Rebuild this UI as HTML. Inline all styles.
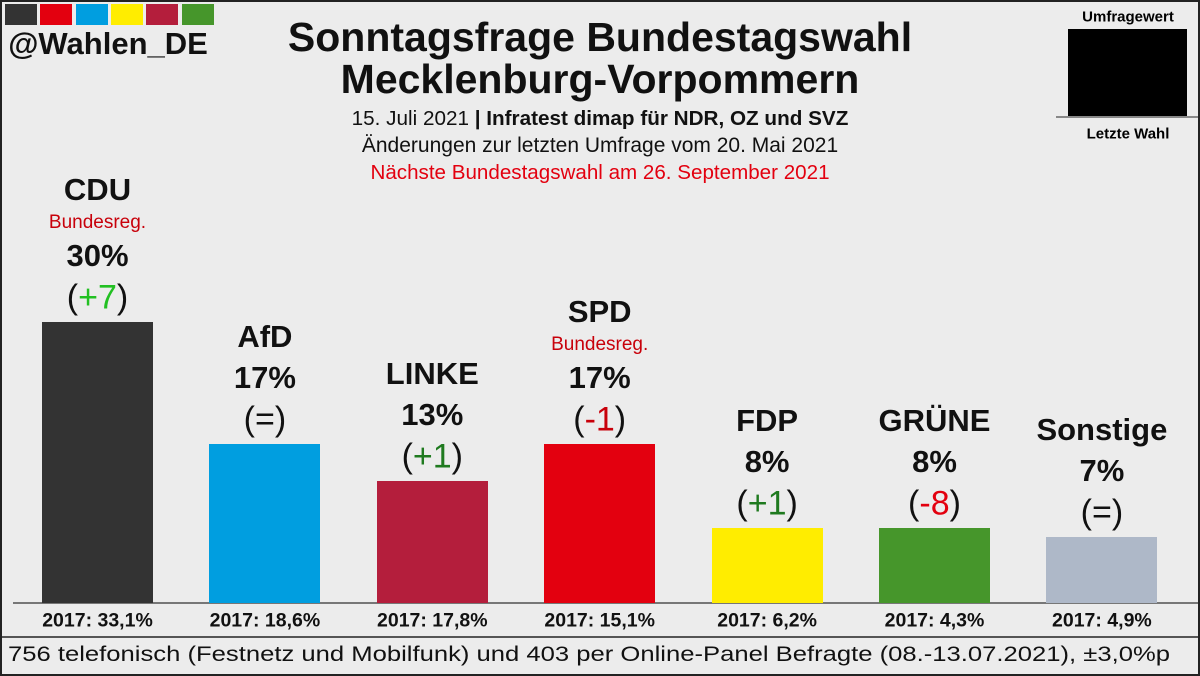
<!DOCTYPE html>
<html><head><meta charset="utf-8"><style>
body{margin:0;width:1200px;height:676px;overflow:hidden;background:#ececec;font-family:"Liberation Sans",sans-serif}
#root{position:relative;width:1200px;height:676px}
.t{position:absolute;white-space:nowrap;transform:translate(-50%,-50%);text-align:center}
</style></head><body>
<div id="root">
<div style="position:absolute;left:0;top:0;width:1196px;height:672px;border:2px solid #222"></div>
<div style="position:absolute;left:5px;top:4px">
 <span style="position:absolute;left:0;top:0;width:32px;height:21px;background:#333"></span>
 <span style="position:absolute;left:35px;top:0;width:32px;height:21px;background:#e3000f"></span>
 <span style="position:absolute;left:71px;top:0;width:32px;height:21px;background:#009ee0"></span>
 <span style="position:absolute;left:106px;top:0;width:32px;height:21px;background:#ffed00"></span>
 <span style="position:absolute;left:141px;top:0;width:32px;height:21px;background:#b41e3c"></span>
 <span style="position:absolute;left:177px;top:0;width:32px;height:21px;background:#46962b"></span>
</div>
<div class="t" style="left:108px;top:44px;font-size:31px;font-weight:bold;color:#111">@Wahlen_DE</div>
<div class="t" style="left:600px;top:58px;font-size:41px;font-weight:bold;line-height:42px;color:#111">Sonntagsfrage Bundestagswahl<br>Mecklenburg-Vorpommern</div>
<div class="t" style="left:600px;top:119px;font-size:20.7px;color:#111">15. Juli 2021 <b>| Infratest dimap für NDR, OZ und SVZ</b></div>
<div class="t" style="left:600px;top:146px;font-size:21px;color:#111">Änderungen zur letzten Umfrage vom 20. Mai 2021</div>
<div class="t" style="left:600px;top:173px;font-size:20.6px;color:#e3000f">Nächste Bundestagswahl am 26. September 2021</div>
<div class="t" style="left:1128px;top:17px;font-size:15px;font-weight:bold">Umfragewert</div>
<div style="position:absolute;left:1068px;top:29px;width:119px;height:87px;background:#000"></div>
<div style="position:absolute;left:1056px;top:116px;width:142px;height:2px;background:#888"></div>
<div class="t" style="left:1128px;top:134px;font-size:15px;font-weight:bold">Letzte Wahl</div>
<div style="position:absolute;left:13px;top:602px;width:1185px;height:2px;background:#777"></div>
<div style="position:absolute;left:2px;top:636px;width:1196px;height:2px;background:#555"></div>
<div style="position:absolute;left:8px;top:643px;font-size:21px;color:#111;white-space:nowrap;transform:scaleX(1.22);transform-origin:0 0">756 telefonisch (Festnetz und Mobilfunk) und 403 per Online-Panel Befragte (08.-13.07.2021), ±3,0%p</div>
<div id="bars"></div>
</div>
<script>
const parties=["CDU","AfD","LINKE","SPD","FDP","GRÜNE","Sonstige"];
const values=[30,17,13,17,8,8,7];
const changes=["+7","=","+1","-1","+1","-8","="];
const previous=["33,1","18,6","17,8","15,1","6,2","4,3","4,9"];
const govt=[true,false,false,true,false,false,false];
const colors=["#333","#009ee0","#b41e3c","#e3000f","#ffed00","#46962b","#aeb8c8"];
const changeColors={"+7":"#22c022","+1":"#1f7a1f","-1":"#c8000a","-8":"#e3000f","=":"#111"};
const baseY=603,pxPer=9.37,x0=42,step=167.4,bw=111;
const yScale=v=>baseY-v*pxPer;
const root=document.getElementById('root');
function txt(x,y,html,style,name){const d=document.createElement('div');d.className='t';d.style.left=x+'px';d.style.top=y+'px';d.style.cssText+=style;d.innerHTML=html;


root.appendChild(d);}
parties.forEach((p,i)=>{
 const x=x0+i*step,top=yScale(values[i]),cx=x+bw/2;
 const b=document.createElement('div');
 b.style.cssText=`position:absolute;left:${x}px;top:${top}px;width:${bw}px;height:${baseY-top}px;background:${colors[i]}`;
 
 
 root.appendChild(b);
 const c=changes[i];
 txt(cx,top-24,c==="="?"(=)":`(<span style="color:${changeColors[c]}">${c}</span>)`,'font-size:34px;color:#111','change-label');
 txt(cx,top-66,values[i]+'%','font-size:31px;font-weight:bold;color:#111','value-label');
 if(govt[i]){txt(cx,top-99,'Bundesreg.','font-size:19px;color:#c8000a','govt-label');txt(cx,top-132,p,'font-size:31px;font-weight:bold;color:#111','party-label');}
 else txt(cx,top-107,p,'font-size:31px;font-weight:bold;color:#111','party-label');
 txt(cx,621,'2017: '+previous[i]+'%','font-size:19.5px;font-weight:bold;color:#111','previous-result');
});
</script>
</body></html>
